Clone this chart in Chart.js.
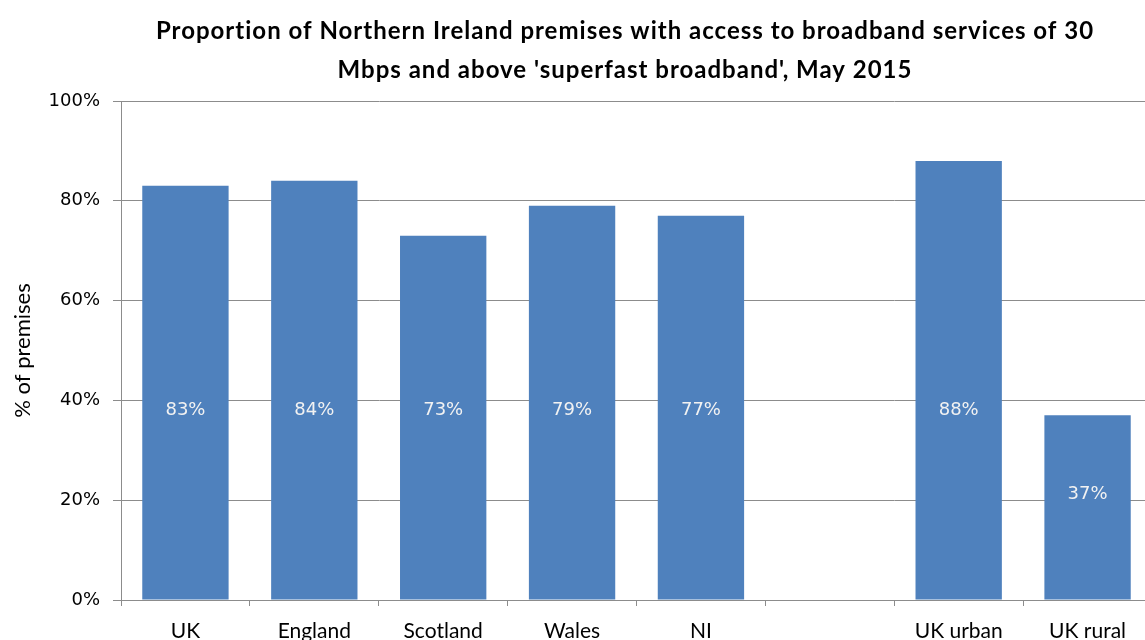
<!DOCTYPE html>
<html>
<head>
<meta charset="utf-8">
<title>Superfast broadband coverage, May 2015</title>
<script src="https://cdn.jsdelivr.net/npm/chart.js@4.4.1/dist/chart.umd.min.js"></script>
<style>
  html, body { margin: 0; padding: 0; background: #fff; overflow: hidden; }
  #wrap { width: 1160px; height: 640px; }
</style>
</head>
<body>
<div id="wrap"><canvas id="myChart" width="1160" height="640"></canvas></div>
<script>
// categories (the blank one leaves a gap between the nations and urban/rural)
const categories = ['UK', 'England', 'Scotland', 'Wales', 'NI', '', 'UK urban', 'UK rural'];
// % of premises with superfast broadband
const coverage = [83, 84, 73, 79, 77, null, 88, 37];
const yTicks = [0, 20, 40, 60, 80, 100];
const titleLines = [
    'Proportion of Northern Ireland premises with access to broadband services of 30',
    "Mbps and above 'superfast broadband', May 2015"
];
const yTitle = '% of premises';

const gridGrey = '#8c8c8c';
const barBlue = '#4f81bd';

// heading drawn above the plot, two centred lines
const headingPlugin = {
    id: 'heading',
    afterDraw(chart) {
        const ctx = chart.ctx;
        ctx.save();
        ctx.fillStyle = '#000';
        ctx.font = 'bold 24px Lato';
        ctx.letterSpacing = '1px';
        ctx.textAlign = 'center';
        ctx.textBaseline = 'middle';
        titleLines.forEach((line, i) => {
            ctx.fillText(line, 625, 31 + i * 39);
        });
        ctx.restore();
    }
};

// value labels inside the bars
const barLabels = {
    id: 'barLabels',
    afterDatasetsDraw(chart) {
        const ctx = chart.ctx;
        const y = chart.scales.y;
        const meta = chart.getDatasetMeta(0);
        ctx.save();
        ctx.fillStyle = '#f2f2f2';
        ctx.font = '18px "DejaVu Sans"';
        ctx.textAlign = 'center';
        ctx.textBaseline = 'middle';
        meta.data.forEach((bar, i) => {
            const v = coverage[i];
            if (v == null) return;
            const level = Math.min(38, v * 0.57);
            ctx.fillText(v + '%', bar.x, y.getPixelForValue(level));
        });
        ctx.restore();
    }
};

new Chart(document.getElementById('myChart'), {
    type: 'bar',
    data: {
        labels: categories,
        datasets: [{
            data: coverage,
            backgroundColor: barBlue,
            borderWidth: 0,
            categoryPercentage: 1,
            barPercentage: 0.67
        }]
    },
    options: {
        responsive: false,
        animation: false,
        layout: { padding: { top: 101, right: 8, left: 0, bottom: 0 } },
        plugins: {
            legend: { display: false },
            tooltip: { enabled: false }
        },
        scales: {
            x: {
                afterFit(scale) { scale.height = 40; },
                grid: {
                    offset: true,
                    drawOnChartArea: false,
                    drawTicks: true,
                    tickLength: 6,
                    color: gridGrey
                },
                border: { color: gridGrey, width: 1 },
                ticks: {
                    color: '#000',
                    font: { family: 'Lato', size: 21 },
                    padding: 13,
                    maxRotation: 0,
                    autoSkip: false
                }
            },
            y: {
                min: 0,
                max: 100,
                afterBuildTicks(scale) {
                    scale.ticks = yTicks.map(v => ({ value: v }));
                },
                afterFit(scale) { scale.width = 121; },
                grid: {
                    color: gridGrey,
                    tickLength: 8,
                    lineWidth: 1
                },
                border: { color: gridGrey, width: 1 },
                ticks: {
                    color: '#000',
                    font: { family: 'DejaVu Sans', size: 18 },
                    padding: 13,
                    callback: v => v + '%'
                },
                title: {
                    display: true,
                    text: yTitle,
                    color: '#000',
                    font: { family: 'Lato', size: 22 },
                    padding: { top: 10 }
                }
            }
        }
    },
    plugins: [headingPlugin, barLabels]
});
</script>
</body>
</html>
